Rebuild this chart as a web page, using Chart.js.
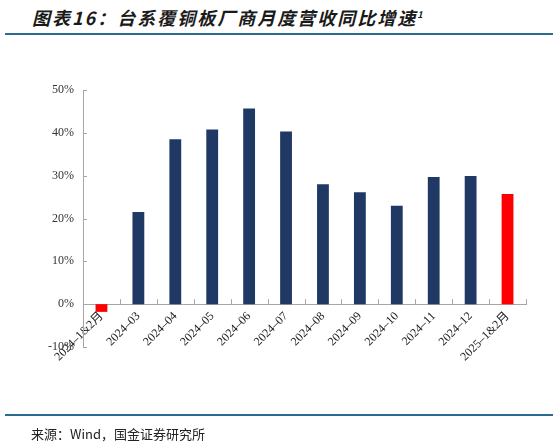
<!DOCTYPE html>
<html>
<head>
<meta charset="utf-8">
<script src="https://cdn.jsdelivr.net/npm/chart.js@4/dist/chart.umd.min.js"></script>
<style>
  html, body { margin: 0; padding: 0; background: #fff; }
  body { width: 559px; height: 447px; position: relative; overflow: hidden; }
  #title {
    position: absolute; left: 32px; top: 4px;
    font-family: "Noto Sans CJK SC", sans-serif; font-size: 18px; font-weight: bold;
    font-style: italic; letter-spacing: 2px; color: #1a1a1a; white-space: nowrap;
  }
  #title sup { font-size: 9px; letter-spacing: 0; }
  .rule { position: absolute; left: 5px; width: 548px; height: 2px; background: #2b6b91; }
  #source {
    position: absolute; left: 31px; top: 424px;
    font-family: "Noto Sans CJK SC", sans-serif; font-size: 13px; color: #222; white-space: nowrap;
  }
  #chart { position: absolute; left: 0; top: 0; }
</style>
</head>
<body>
<div id="title">图表16：台系覆铜板厂商月度营收同比增速<sup>1</sup></div>
<div class="rule" style="top:33px"></div>
<canvas id="chart" width="559" height="447"></canvas>
<div class="rule" style="top:414px"></div>
<div id="source">来源：Wind，国金证券研究所</div>

<script>
// données (%)
const months = ['2024–1&2月', '2024–03', '2024–04', '2024–05', '2024–06', '2024–07',
                '2024–08', '2024–09', '2024–10', '2024–11', '2024–12', '2025–1&2月'];
const growth = [-1.8, 21.5, 38.5, 40.8, 45.7, 40.3, 28.0, 26.1, 23.0, 29.7, 29.9, 25.7];
const highlighted = ['2024–1&2月', '2025–1&2月'];
const yTicks = [-10, 0, 10, 20, 30, 40, 50];

const axisGray = '#a6a6a6';

// petits traits de graduation tournés vers l'intérieur
const innerTicks = {
  id: 'innerTicks',
  afterDraw(chart) {
    const { ctx, chartArea, scales } = chart;
    const x = scales.x, y = scales.y;
    ctx.save();
    ctx.strokeStyle = axisGray;
    ctx.lineWidth = 1;
    ctx.beginPath();
    yTicks.forEach(v => {
      const py = Math.round(y.getPixelForValue(v)) + 0.5;
      ctx.moveTo(chartArea.left, py);
      ctx.lineTo(chartArea.left + 4, py);
    });
    const zeroY = y.getPixelForValue(0);
    const step = (chartArea.right - chartArea.left) / months.length;
    for (let i = 1; i <= months.length; i++) {
      const px = Math.round(chartArea.left + step * i) + 0.5;
      ctx.moveTo(px, zeroY);
      ctx.lineTo(px, zeroY - 5);
    }
    ctx.stroke();
    ctx.restore();
  }
};

new Chart(document.getElementById('chart').getContext('2d'), {
  type: 'bar',
  data: {
    labels: months,
    datasets: [{
      data: growth,
      backgroundColor: months.map(m => highlighted.includes(m) ? '#ff0000' : '#1f3864'),
      barPercentage: 0.32,
      categoryPercentage: 1.0
    }]
  },
  options: {
    responsive: false,
    animation: false,
    devicePixelRatio: 1,
    layout: { padding: { left: 0, right: 33, top: 90, bottom: 100 } },
    plugins: { legend: { display: false }, tooltip: { enabled: false } },
    scales: {
      x: {
        position: { y: 0 },
        grid: { display: false, drawTicks: false },
        border: { display: true, color: axisGray, width: 1 },
        ticks: {
          autoSkip: false, minRotation: 45, maxRotation: 45, padding: 5,
          color: '#222',
          font: { family: '"Liberation Serif", "Noto Sans CJK SC", serif', size: 12 }
        }
      },
      y: {
        min: -10, max: 50,
        afterFit(scale) { scale.width = 83; },
        afterBuildTicks(scale) { scale.ticks = yTicks.map(v => ({ value: v })); },
        grid: { display: false, drawTicks: false },
        border: { display: true, color: axisGray, width: 1 },
        ticks: {
          padding: 9, color: '#333',
          font: { family: '"Liberation Serif", serif', size: 12 },
          callback: v => v + '%'
        }
      }
    }
  },
  plugins: [innerTicks]
});
</script>
</body>
</html>
